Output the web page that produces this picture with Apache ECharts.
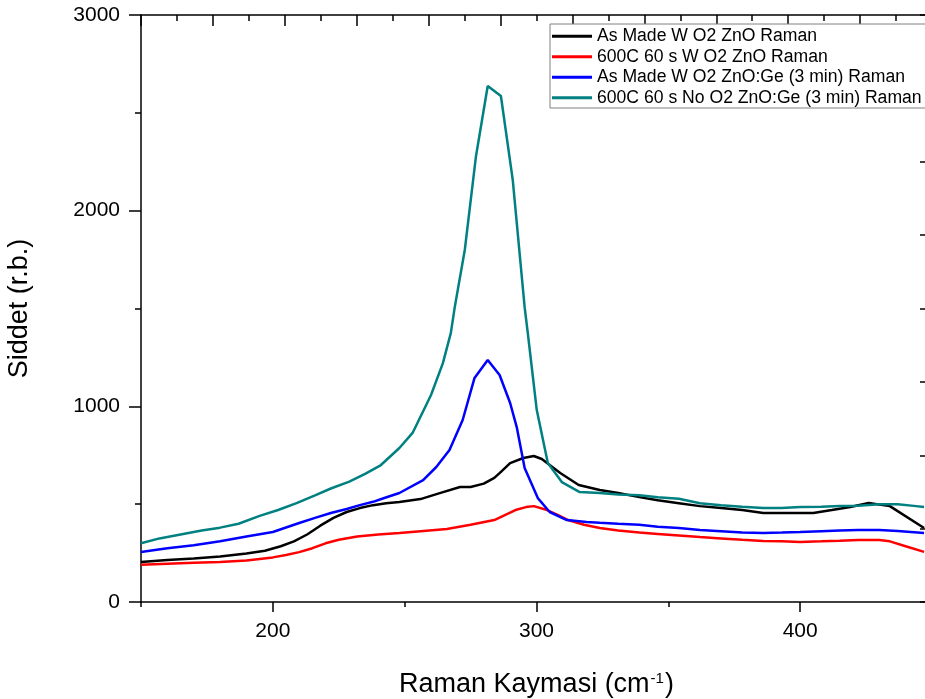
<!DOCTYPE html>
<html>
<head>
<meta charset="utf-8">
<script src="https://cdn.jsdelivr.net/npm/echarts@6/dist/echarts.min.js"></script>
<style>html,body{margin:0;padding:0;background:#fff;}#c{width:925px;height:699px;}</style>
</head>
<body>
<div id="c"></div>
<script>
const seriesNames = [
  'As Made W O2 ZnO Raman',
  '600C 60 s W O2 ZnO Raman',
  'As Made W O2 ZnO:Ge (3 min) Raman',
  '600C 60 s No O2 ZnO:Ge (3 min) Raman'
];
const xTickLabels = [200, 300, 400];
const yTickLabels = [0, 1000, 2000, 3000];

const blackX = [150,160,170,180,190,197,203,208,213,218,223,228,233,238,243,248,256,263,271,275,280,284,286,290,295,299,302,309,316,324,331,339,346,354,362,370,378,386,393,400,405,412,419,426,434,447];
const blackY = [205,215,222,232,248,262,285,310,345,390,430,460,480,495,505,511,526,555,588,588,605,634,659,710,736,746,731,659,598,572,557,536,520,505,490,480,470,455,455,455,455,470,486,506,490,378];

const redX = [150,160,170,180,190,200,205,210,215,220,225,232,240,248,256,266,275,284,289,292,296,299,304,308,312,318,324,331,339,346,354,362,370,378,386,393,400,408,415,422,430,434,440,447];
const redY = [190,195,200,205,212,228,240,255,275,300,318,335,345,353,362,373,395,419,450,470,485,490,470,445,419,395,378,365,355,348,340,332,325,318,312,310,307,310,313,317,317,310,285,256];

const blueX = [150,160,170,180,190,200,210,216,222,228,233,238,242,248,257,262,267,272,276.5,281.5,286,290,292.5,295.5,300.5,305,311.5,319,324,331,339,346,354,362,370,378,386,393,400,408,415,422,430,437,447];
const blueY = [256,275,290,310,335,358,404,430,455,475,495,512,530,557,623,690,777,930,1145,1237,1160,1017,894,685,531,460,419,409,405,400,395,385,378,368,362,355,353,355,358,362,365,368,368,363,353];

const tealX = [150,157,165,173,180,187,195,202,209,216,222,229,235,241,248,253,260,264.5,267.5,269,272.8,277,281.5,286.5,291,295.5,296.7,300.1,304.3,309.6,316.4,324,331,339,346,354,362,370,378,386,393,400,408,415,422,430,437,444,447];
const tealY = [300,325,345,365,380,400,440,470,505,545,580,615,655,700,787,864,1058,1221,1374,1507,1799,2274,2637,2586,2156,1507,1374,981,710,613,562,557,550,545,535,528,505,495,487,480,480,485,487,490,492,500,500,490,485];

const colors = ['#000000', '#ff0000', '#0000ff', '#008080'];
const xs = [blackX, redX, blueX, tealX];
const ys = [blackY, redY, blueY, tealY];

const FONT = 'Liberation Sans, Arial, sans-serif';
const axisLine = {show: true, onZero: false, lineStyle: {color: '#000', width: 1.5}};
const tickStyle = {color: '#000', width: 1.5};
const gridRect = {left: 141, top: 15, bottom: 97, right: -7, outerBoundsMode: 'none', containLabel: false};

const chart = echarts.init(document.getElementById('c'));
chart.setOption({
  animation: false,
  backgroundColor: '#fff',
  grid: [Object.assign({}, gridRect), Object.assign({}, gridRect)],
  legend: {
    orient: 'vertical',
    left: 550, top: 24,
    padding: [2, 14, 0, 2],
    itemGap: 0,
    itemWidth: 40, itemHeight: 3,
    icon: 'rect',
    backgroundColor: '#fff',
    borderColor: '#808080', borderWidth: 1, borderRadius: 0,
    textStyle: {fontFamily: FONT, fontSize: 17.6, color: '#000', lineHeight: 20.5},
    data: seriesNames
  },
  xAxis: [
    {
      gridIndex: 0, type: 'value', position: 'bottom', min: 150, max: 450, interval: 100,
      axisLine: axisLine,
      axisTick: {show: true, inside: false, length: 5, lineStyle: tickStyle},
      minorTick: {show: true, splitNumber: 2, length: 10, lineStyle: tickStyle},
      axisLabel: {show: false},
      splitLine: {show: false},
      name: '{n|Raman Kaymasi (cm}{s|-1}{n|)}',
      nameLocation: 'middle', nameGap: 69,
      nameTextStyle: {
        rich: {
          n: {fontFamily: FONT, fontSize: 27, color: '#000'},
          s: {fontFamily: FONT, fontSize: 15, color: '#000', verticalAlign: 'top', padding: [0, 1, 12, 1]}
        }
      }
    },
    {
      gridIndex: 0, type: 'value', position: 'top', min: 0, max: 11, interval: 1,
      axisLine: axisLine,
      axisTick: {show: true, inside: true, length: 11, lineStyle: tickStyle},
      minorTick: {show: true, splitNumber: 2, length: 6, lineStyle: tickStyle},
      axisLabel: {show: false},
      splitLine: {show: false}
    },
    {
      gridIndex: 1, type: 'value', position: 'bottom', min: 150, max: 450, interval: 50,
      axisLine: {show: false, onZero: false}, axisTick: {show: false},
      axisLabel: {
        show: true, margin: 19, color: '#000', fontFamily: FONT, fontSize: 21,
        formatter: v => xTickLabels.indexOf(v) >= 0 ? String(v) : ''
      },
      splitLine: {show: false}
    }
  ],
  yAxis: [
    {
      gridIndex: 0, type: 'value', position: 'left', min: 0, max: 3000, interval: 1000,
      axisLine: axisLine,
      axisTick: {show: true, inside: false, length: 12, lineStyle: tickStyle},
      minorTick: {show: true, splitNumber: 2, length: 6, lineStyle: tickStyle},
      axisLabel: {
        show: true, margin: 21, color: '#000', fontFamily: FONT, fontSize: 21,
        formatter: v => yTickLabels.indexOf(v) >= 0 ? String(v) : ''
      },
      splitLine: {show: false},
      name: 'Siddet (r.b.)', nameLocation: 'middle', nameGap: 108, nameRotate: 90,
      nameTextStyle: {fontFamily: FONT, fontSize: 27, color: '#000'}
    },
    {
      gridIndex: 0, type: 'value', position: 'right', min: 0, max: 8, interval: 1,
      axisLine: axisLine,
      axisTick: {show: true, inside: true, length: 12, lineStyle: tickStyle},
      axisLabel: {show: false},
      splitLine: {show: false}
    },
    {
      gridIndex: 1, type: 'value', min: 0, max: 3000, show: false
    }
  ],
  series: seriesNames.map((name, i) => ({
    name: name,
    type: 'line',
    xAxisIndex: 0, yAxisIndex: 0,
    showSymbol: false, symbol: 'none',
    lineStyle: {color: colors[i], width: 2.5},
    itemStyle: {color: colors[i]},
    data: xs[i].map((x, k) => [x, ys[i][k]]),
    z: 2 + i
  }))
});
</script>
</body>
</html>
